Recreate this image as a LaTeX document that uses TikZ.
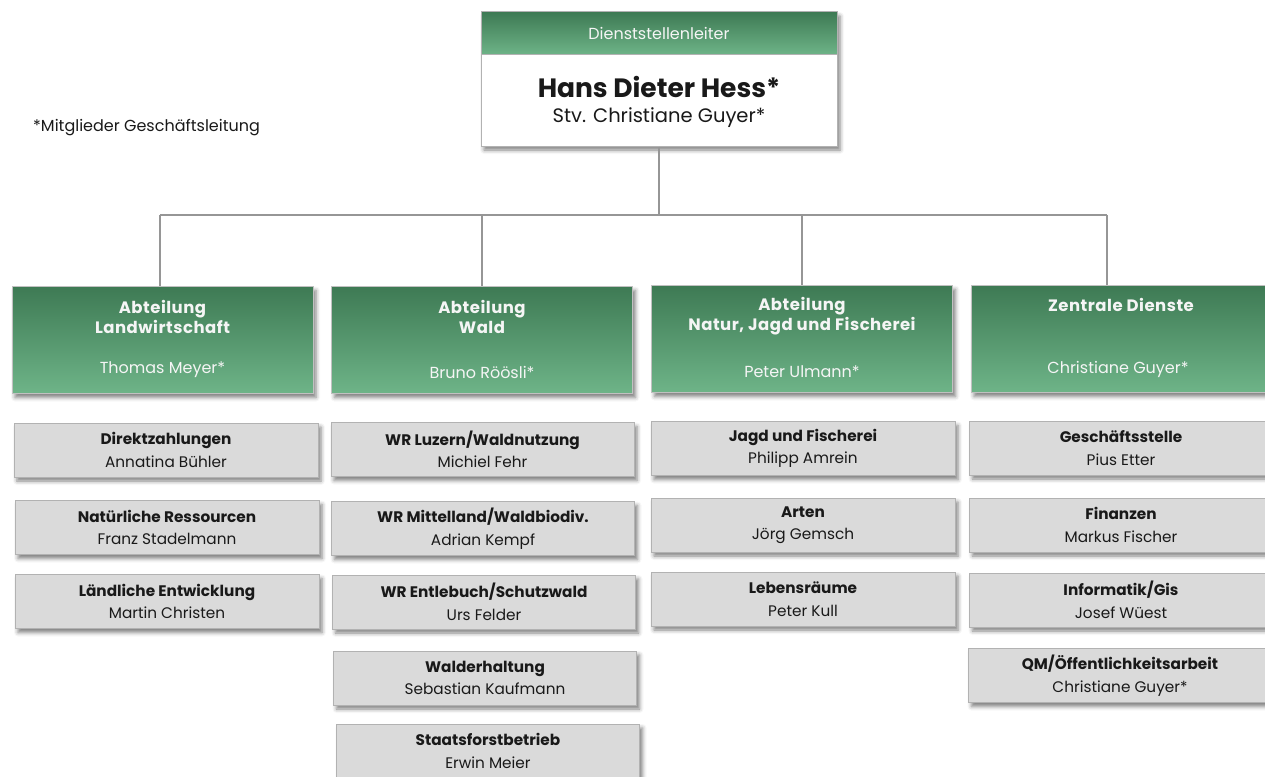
\documentclass[tikz,border=0pt]{standalone}
\usepackage{fontspec}
\setmainfont{Poppins}
\usetikzlibrary{shadows.blur}
\definecolor{gdark}{RGB}{62,122,84}
\definecolor{glight}{RGB}{110,180,136}
\definecolor{gfill}{RGB}{218,218,218}
\definecolor{gborder}{RGB}{178,178,178}
\definecolor{linec}{RGB}{150,150,150}
\definecolor{txt}{RGB}{25,25,25}
\definecolor{wtxt}{RGB}{245,245,245}
\newcommand\boxtitle[1]{{\bfseries #1}}
\tikzset{
  shad/.style={blur shadow={shadow xshift=3pt,shadow yshift=-4pt,shadow blur radius=4pt,shadow opacity=50}},
  gbox/.style={draw=gborder,line width=1pt,fill=gfill,shad,minimum width=303pt,minimum height=54pt,
    inner sep=0pt,align=center,text=txt,font=\fontsize{15.3}{22.5}\selectfont},
  dept/.style={draw=gborder!80,line width=1pt,top color=gdark,bottom color=glight,shad,
    minimum width=301pt,minimum height=107pt,inner sep=0pt},
  dtitle/.style={text=wtxt,font=\bfseries\fontsize{16.5}{20.5}\selectfont\addfontfeatures{LetterSpace=3},align=center,inner sep=0pt},
  dname/.style={text=wtxt,font=\fontsize{16}{18}\selectfont,inner sep=0pt},
  conn/.style={draw=linec,line width=2pt}
}
\begin{document}
\begin{tikzpicture}[x=1pt,y=-1pt]
\useasboundingbox (0,0) rectangle (1265,776);
\coordinate (bus) at (659,215);
\coordinate (busl) at (160,215);
\coordinate (busr) at (1107,215);
% top box
\node[draw=gborder,line width=1pt,fill=white,shad,minimum width=356pt,minimum height=134pt,inner sep=0pt] (top) at (659,79) {};
\draw[conn] (top.south -| bus) -- (bus);
\draw[conn] (busl) -- (busr);
\node[draw=gborder,line width=1pt,top color=gdark,bottom color=glight,minimum width=356pt,minimum height=43pt,inner sep=0pt] (toph) at (659,33.5) {};
\node[text=wtxt,font=\fontsize{16}{18}\selectfont,inner sep=0pt] (toptitle) at (659,33) {Dienststellenleiter};
\node[text=txt,font=\bfseries\fontsize{26.5}{30}\selectfont,inner sep=0pt] (topname) at (659,87) {Hans Dieter Hess*};
\node[text=txt,font=\fontsize{19.5}{22}\selectfont,inner sep=0pt] (topstv) at (659,118) {Stv. Christiane Guyer*};
% footnote
\node[text=txt,font=\fontsize{16}{18}\selectfont,inner sep=0pt,anchor=west] (fn) at (33,128) {*Mitglieder Geschäftsleitung};
% departments
\node[dept] (d1) at (162.5,340) {};
\node[dept] (d2) at (482,340) {};
\node[dept] (d3) at (802,339) {};
\node[dept,minimum width=300pt] (d4) at (1121,339) {};
\draw[conn] (busl) -- (d1.north -| busl);
\draw[conn] (d2.north |- bus) -- (d2.north);
\draw[conn] (d3.north |- bus) -- (d3.north);
\draw[conn] (busr) -- (d4.north -| busr);
\node[dtitle] (d1t) at (162.5,317) {Abteilung\\Landwirtschaft};
\node[dname] (d1n) at (162.5,370) {Thomas Meyer*};
\node[dtitle] (d2t) at (482,317) {Abteilung\\Wald};
\node[dname] (d2n) at (482,372) {Bruno Röösli*};
\node[dtitle] (d3t) at (802,316) {Abteilung\\Natur, Jagd und Fischerei};
\node[dname] (d3n) at (802,372) {Peter Ulmann*};
\node[dtitle] (d4t) at (1121,305) {Zentrale Dienste};
\node[dname] (d4n) at (1118,369) {Christiane Guyer*};
% column 1
\node[gbox,minimum width=304pt] (a1) at (166,450) {\boxtitle{Direktzahlungen}\\Annatina Bühler};
\node[gbox,minimum width=304pt] (a2) at (167,527.5) {\boxtitle{Natürliche Ressourcen}\\Franz Stadelmann};
\node[gbox,minimum width=304pt] (a3) at (167,601.5) {\boxtitle{Ländliche Entwicklung}\\Martin Christen};
% column 2
\node[gbox] (b1) at (482.5,449.5) {\boxtitle{WR Luzern/Waldnutzung}\\Michiel Fehr};
\node[gbox] (b2) at (483,528.5) {\boxtitle{WR Mittelland/Waldbiodiv.}\\Adrian Kempf};
\node[gbox] (b3) at (484,602) {\boxtitle{WR Entlebuch/Schutzwald}\\Urs Felder};
\node[gbox] (b4) at (485,678) {\boxtitle{Walderhaltung}\\Sebastian Kaufmann};
\node[gbox] (b5) at (488,751) {\boxtitle{Staatsforstbetrieb}\\Erwin Meier};
% column 3
\node[gbox,minimum width=304pt] (c1) at (803,448.5) {\boxtitle{Jagd und Fischerei}\\Philipp Amrein};
\node[gbox,minimum width=304pt] (c2) at (803,525) {\boxtitle{Arten}\\Jörg Gemsch};
\node[gbox,minimum width=304pt] (c3) at (803,599) {\boxtitle{Lebensräume}\\Peter Kull};
% column 4
\node[gbox] (e1) at (1121,448) {\boxtitle{Geschäftsstelle}\\Pius Etter};
\node[gbox] (e2) at (1121,525) {\boxtitle{Finanzen}\\Markus Fischer};
\node[gbox] (e3) at (1121,600) {\boxtitle{Informatik/Gis}\\Josef Wüest};
\node[gbox] (e4) at (1120,675.5) {\boxtitle{QM/Öffentlichkeitsarbeit}\\Christiane Guyer*};
\end{tikzpicture}
\end{document}
